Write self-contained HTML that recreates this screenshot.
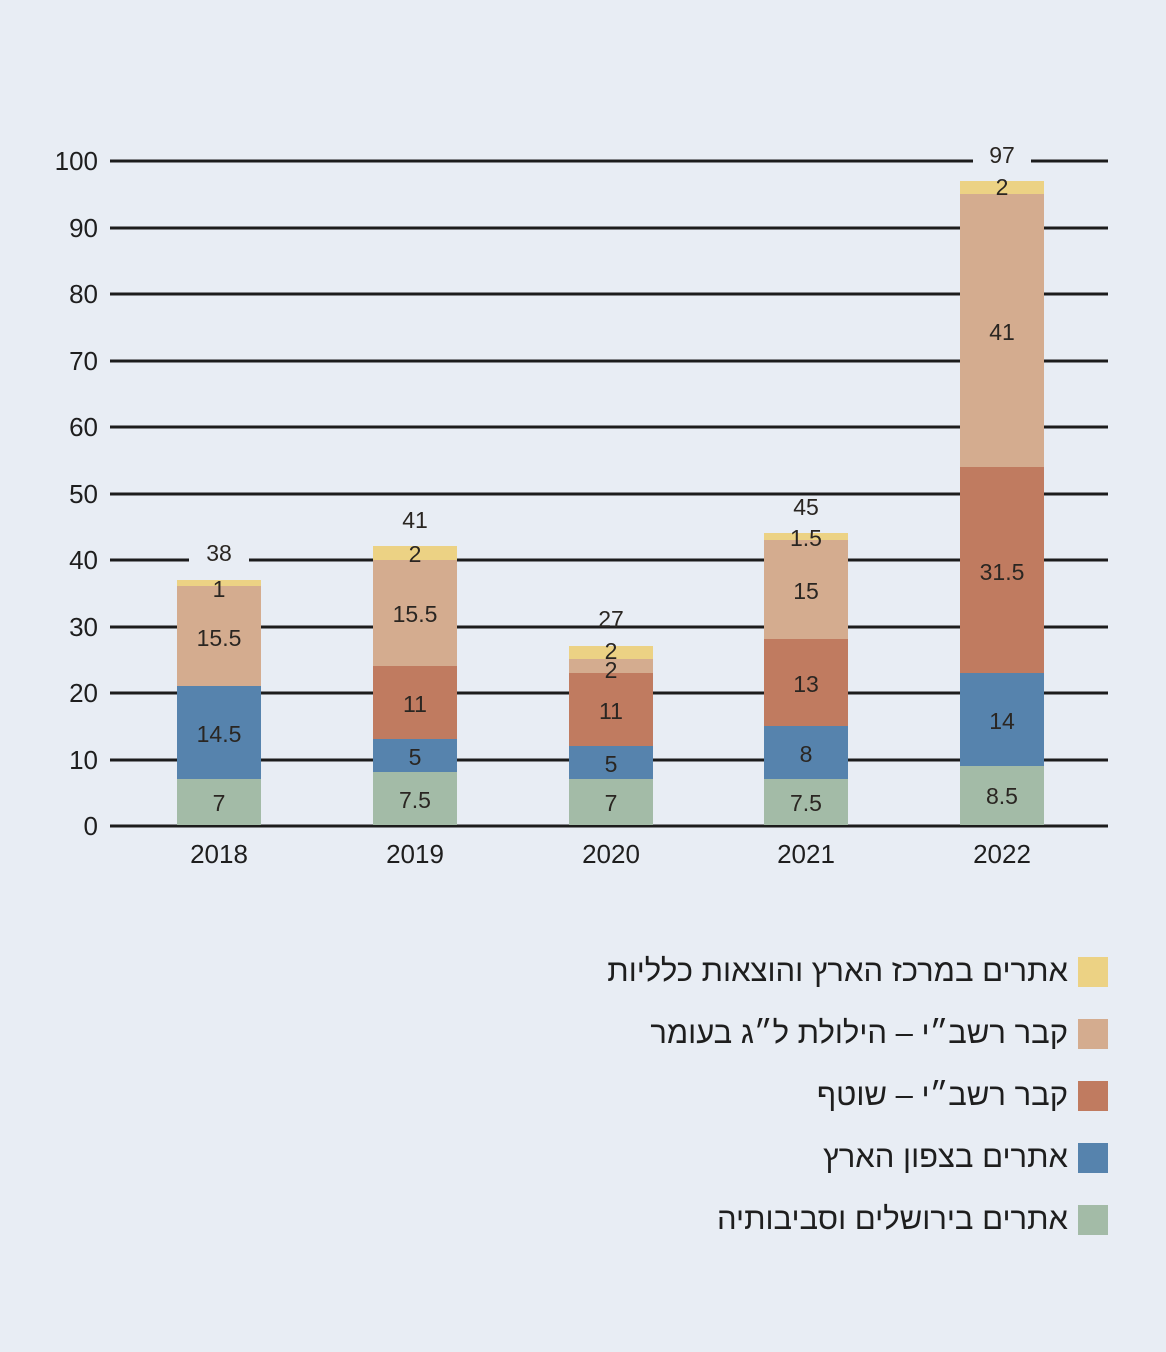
<!DOCTYPE html>
<html><head><meta charset="utf-8"><style>
html,body{margin:0;padding:0;background:#e8edf4;}
svg{display:block;font-family:"Liberation Sans",sans-serif;}
.t{font-size:23px;fill:#2a2622;text-anchor:middle;}
.ax{font-size:26px;fill:#1e1e1e;}
.lg{font-family:"Liberation Sans","Noto Sans CJK JP",sans-serif;font-size:31px;fill:#1e1e1e;text-anchor:end;}
</style></head><body>
<svg width="1166" height="1352" viewBox="0 0 1166 1352">
<rect width="1166" height="1352" fill="#e8edf4"/>
<g stroke="#1c1c1c" stroke-width="3">
<line x1="110" x2="1108" y1="161" y2="161"/>
<line x1="110" x2="1108" y1="228" y2="228"/>
<line x1="110" x2="1108" y1="294" y2="294"/>
<line x1="110" x2="1108" y1="361" y2="361"/>
<line x1="110" x2="1108" y1="427" y2="427"/>
<line x1="110" x2="1108" y1="494" y2="494"/>
<line x1="110" x2="1108" y1="560" y2="560"/>
<line x1="110" x2="1108" y1="627" y2="627"/>
<line x1="110" x2="1108" y1="693" y2="693"/>
<line x1="110" x2="1108" y1="760" y2="760"/>
<line x1="110" x2="1108" y1="826" y2="826"/>
</g>
<g class="ax" text-anchor="end">
<text x="98" y="170">100</text><text x="98" y="237">90</text><text x="98" y="303">80</text>
<text x="98" y="370">70</text><text x="98" y="436">60</text><text x="98" y="503">50</text>
<text x="98" y="569">40</text><text x="98" y="636">30</text><text x="98" y="702">20</text>
<text x="98" y="769">10</text><text x="98" y="835">0</text>
</g>
<g class="ax" text-anchor="middle">
<text x="219" y="863">2018</text><text x="415" y="863">2019</text><text x="611" y="863">2020</text>
<text x="806" y="863">2021</text><text x="1002" y="863">2022</text>
</g>
<g>
<rect x="177" y="779" width="84" height="46" fill="#a3bba7"/>
<rect x="177" y="686" width="84" height="93" fill="#5683ad"/>
<rect x="177" y="586" width="84" height="100" fill="#d4ac8f"/>
<rect x="177" y="580" width="84" height="6" fill="#ecd284"/>

<rect x="373" y="772" width="84" height="53" fill="#a3bba7"/>
<rect x="373" y="739" width="84" height="33" fill="#5683ad"/>
<rect x="373" y="666" width="84" height="73" fill="#c07b60"/>
<rect x="373" y="560" width="84" height="106" fill="#d4ac8f"/>
<rect x="373" y="546" width="84" height="14" fill="#ecd284"/>

<rect x="569" y="779" width="84" height="46" fill="#a3bba7"/>
<rect x="569" y="746" width="84" height="33" fill="#5683ad"/>
<rect x="569" y="673" width="84" height="73" fill="#c07b60"/>
<rect x="569" y="659" width="84" height="14" fill="#d4ac8f"/>
<rect x="569" y="646" width="84" height="13" fill="#ecd284"/>

<rect x="764" y="779" width="84" height="46" fill="#a3bba7"/>
<rect x="764" y="726" width="84" height="53" fill="#5683ad"/>
<rect x="764" y="639" width="84" height="87" fill="#c07b60"/>
<rect x="764" y="540" width="84" height="99" fill="#d4ac8f"/>
<rect x="764" y="533" width="84" height="7" fill="#ecd284"/>

<rect x="960" y="766" width="84" height="59" fill="#a3bba7"/>
<rect x="960" y="673" width="84" height="93" fill="#5683ad"/>
<rect x="960" y="467" width="84" height="206" fill="#c07b60"/>
<rect x="960" y="194" width="84" height="273" fill="#d4ac8f"/>
<rect x="960" y="181" width="84" height="13" fill="#ecd284"/>
</g>
<rect x="189" y="540" width="60" height="30" fill="#e8edf4"/>
<rect x="973" y="142" width="58" height="30" fill="#e8edf4"/>
<g class="t">
<text x="219" y="811">7</text><text x="219" y="742">14.5</text><text x="219" y="646">15.5</text><text x="219" y="597">1</text><text x="219" y="561">38</text>
<text x="415" y="808">7.5</text><text x="415" y="765">5</text><text x="415" y="712">11</text><text x="415" y="622">15.5</text><text x="415" y="562">2</text><text x="415" y="528">41</text>
<text x="611" y="811">7</text><text x="611" y="772">5</text><text x="611" y="719">11</text><text x="611" y="678">2</text><text x="611" y="659">2</text><text x="611" y="627">27</text>
<text x="806" y="811">7.5</text><text x="806" y="762">8</text><text x="806" y="692">13</text><text x="806" y="599">15</text><text x="806" y="546">1.5</text><text x="806" y="515">45</text>
<text x="1002" y="804">8.5</text><text x="1002" y="729">14</text><text x="1002" y="580">31.5</text><text x="1002" y="340">41</text><text x="1002" y="195">2</text><text x="1002" y="163">97</text>
</g>
<rect x="1078" y="957" width="30" height="30" fill="#ecd284"/>
<rect x="1078" y="1019" width="30" height="30" fill="#d4ac8f"/>
<rect x="1078" y="1081" width="30" height="30" fill="#c07b60"/>
<rect x="1078" y="1143" width="30" height="30" fill="#5683ad"/>
<rect x="1078" y="1205" width="30" height="30" fill="#a3bba7"/>
<g class="lg">
<text x="1068" y="981">אתרים במרכז הארץ והוצאות כלליות</text>
<text x="1068" y="1043">קבר רשב״י – הילולת ל״ג בעומר</text>
<text x="1068" y="1105">קבר רשב״י – שוטף</text>
<text x="1068" y="1167">אתרים בצפון הארץ</text>
<text x="1068" y="1229">אתרים בירושלים וסביבותיה</text>
</g>
</svg>
</body></html>
